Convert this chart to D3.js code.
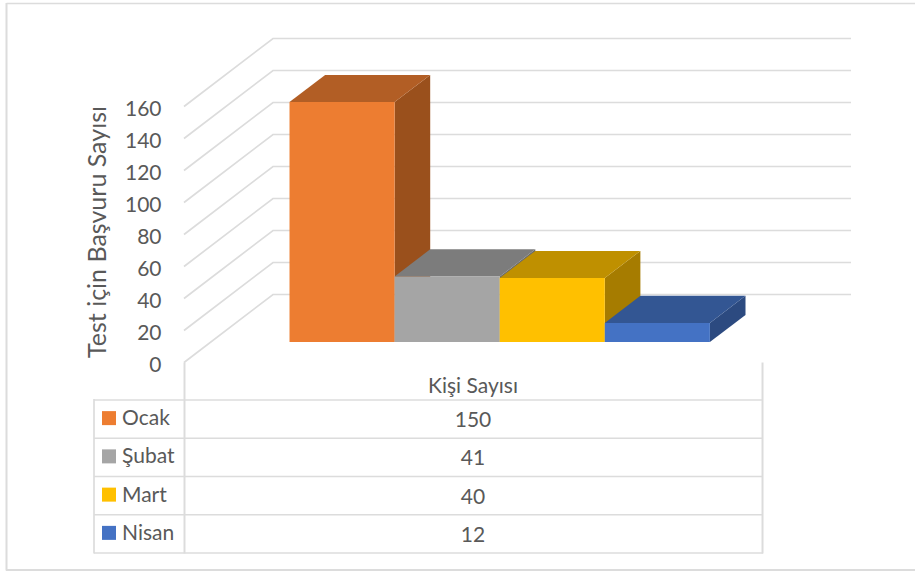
<!DOCTYPE html>
<html><head><meta charset="utf-8">
<style>html,body{margin:0;padding:0;background:#fff;overflow:hidden}svg{display:block}text{font-family:Lato,"Open Sans",sans-serif;fill:#595959}</style>
<script src="https://cdn.jsdelivr.net/npm/d3@7"></script></head><body>
<script>
const categories = ["Ocak", "Şubat", "Mart", "Nisan"];
const values = [150, 41, 40, 12];
const frontColors = ["#ED7D31", "#A5A5A5", "#FFC000", "#4472C4"];
const topColors = ["#B25E25", "#7C7C7C", "#BF9000", "#335693"];
const sideColors = ["#9A501C", "#6B6B6B", "#A67C00", "#2C4A80"];
const yTicks = [0, 20, 40, 60, 80, 100, 120, 140, 160];
const xAxisLabel = "Kişi Sayısı";
const yAxisLabel = "Test için Başvuru Sayısı";

const W = 915, H = 572;
const svg = d3.select("body").append("svg").attr("width", W).attr("height", H);
const grid = "#DCDCDC";

// oblique projection of (x, value, depth)
const xS = d3.scaleLinear().domain([0, 5.5]).range([184, 762]);
const yS = d3.scaleLinear().domain([0, 160]).range([362.5, 106.5]);
const zX = d3.scaleLinear().domain([0, 1]).range([0, 89]);
const zY = d3.scaleLinear().domain([0, 1]).range([0, -68]);
const P = (x, v, z) => [xS(x) + zX(z), yS(v) + zY(z)];
const poly = pts => pts.map(p => p.join(",")).join(" ");

// outer frame: the right edge runs off the picture
const fl = (x1, y1, x2, y2, w) => svg.append("line").attr("x1", x1).attr("y1", y1).attr("x2", x2).attr("y2", y2)
  .attr("stroke", grid).attr("stroke-width", w);
fl(6.5, 3.5, W, 3.5, 1.4);
fl(6.5, 3, 6.5, 570.5, 2);
fl(6, 570, W, 570, 2);

// gridlines: left wall + back wall
yTicks.forEach(t => {
  const a = P(0, t, 0), b = P(0, t, 1), c = P(5.5, t, 1);
  svg.append("polyline").attr("points", poly([a, b, c])).attr("fill", "none")
    .attr("stroke", grid).attr("stroke-width", 1.7);
  svg.append("text").attr("x", 161.5).attr("y", yS(t) + 9.5).attr("text-anchor", "end")
    .attr("font-size", 21).text(t);
});

// bars
const z0 = 0.3, z1 = 0.7;
categories.forEach((c, i) => {
  const x0 = 0.75 + i, x1 = x0 + 1, v = values[i];
  svg.append("polygon").attr("fill", sideColors[i])
    .attr("points", poly([P(x1, 0, z0), P(x1, 0, z1), P(x1, v, z1), P(x1, v, z0)]));
  svg.append("polygon").attr("fill", topColors[i])
    .attr("points", poly([P(x0, v, z0), P(x0, v, z1), P(x1, v, z1), P(x1, v, z0)]));
  svg.append("polygon").attr("fill", frontColors[i])
    .attr("points", poly([P(x0, 0, z0), P(x1, 0, z0), P(x1, v, z0), P(x0, v, z0)]));
});

// y axis title
svg.append("text").attr("transform", "translate(105.5,232) rotate(-90)").attr("text-anchor", "middle")
  .attr("font-size", 25).text(yAxisLabel);

// data table
const rowY = d3.scaleLinear().domain([0, 4]).range([400, 553]);
d3.range(5).forEach(r => fl(94, rowY(r), 763, rowY(r), 1.7));
fl(94, 399, 94, 553.5, 1.7);
fl(184.5, 362.5, 184.5, 553.5, 2);
fl(762.5, 362.5, 762.5, 553.5, 2);
svg.append("text").attr("x", 473).attr("y", 393).attr("text-anchor", "middle").attr("font-size", 21).text(xAxisLabel);
categories.forEach((c, i) => {
  const cy = (rowY(i) + rowY(i + 1)) / 2;
  svg.append("rect").attr("x", 102).attr("y", cy - 8).attr("width", 14).attr("height", 14).attr("fill", frontColors[i]);
  svg.append("text").attr("x", 122).attr("y", cy + 6).attr("font-size", 21).text(c);
  svg.append("text").attr("x", 473).attr("y", cy + 8).attr("text-anchor", "middle").attr("font-size", 21).text(values[i]);
});
</script></body></html>
